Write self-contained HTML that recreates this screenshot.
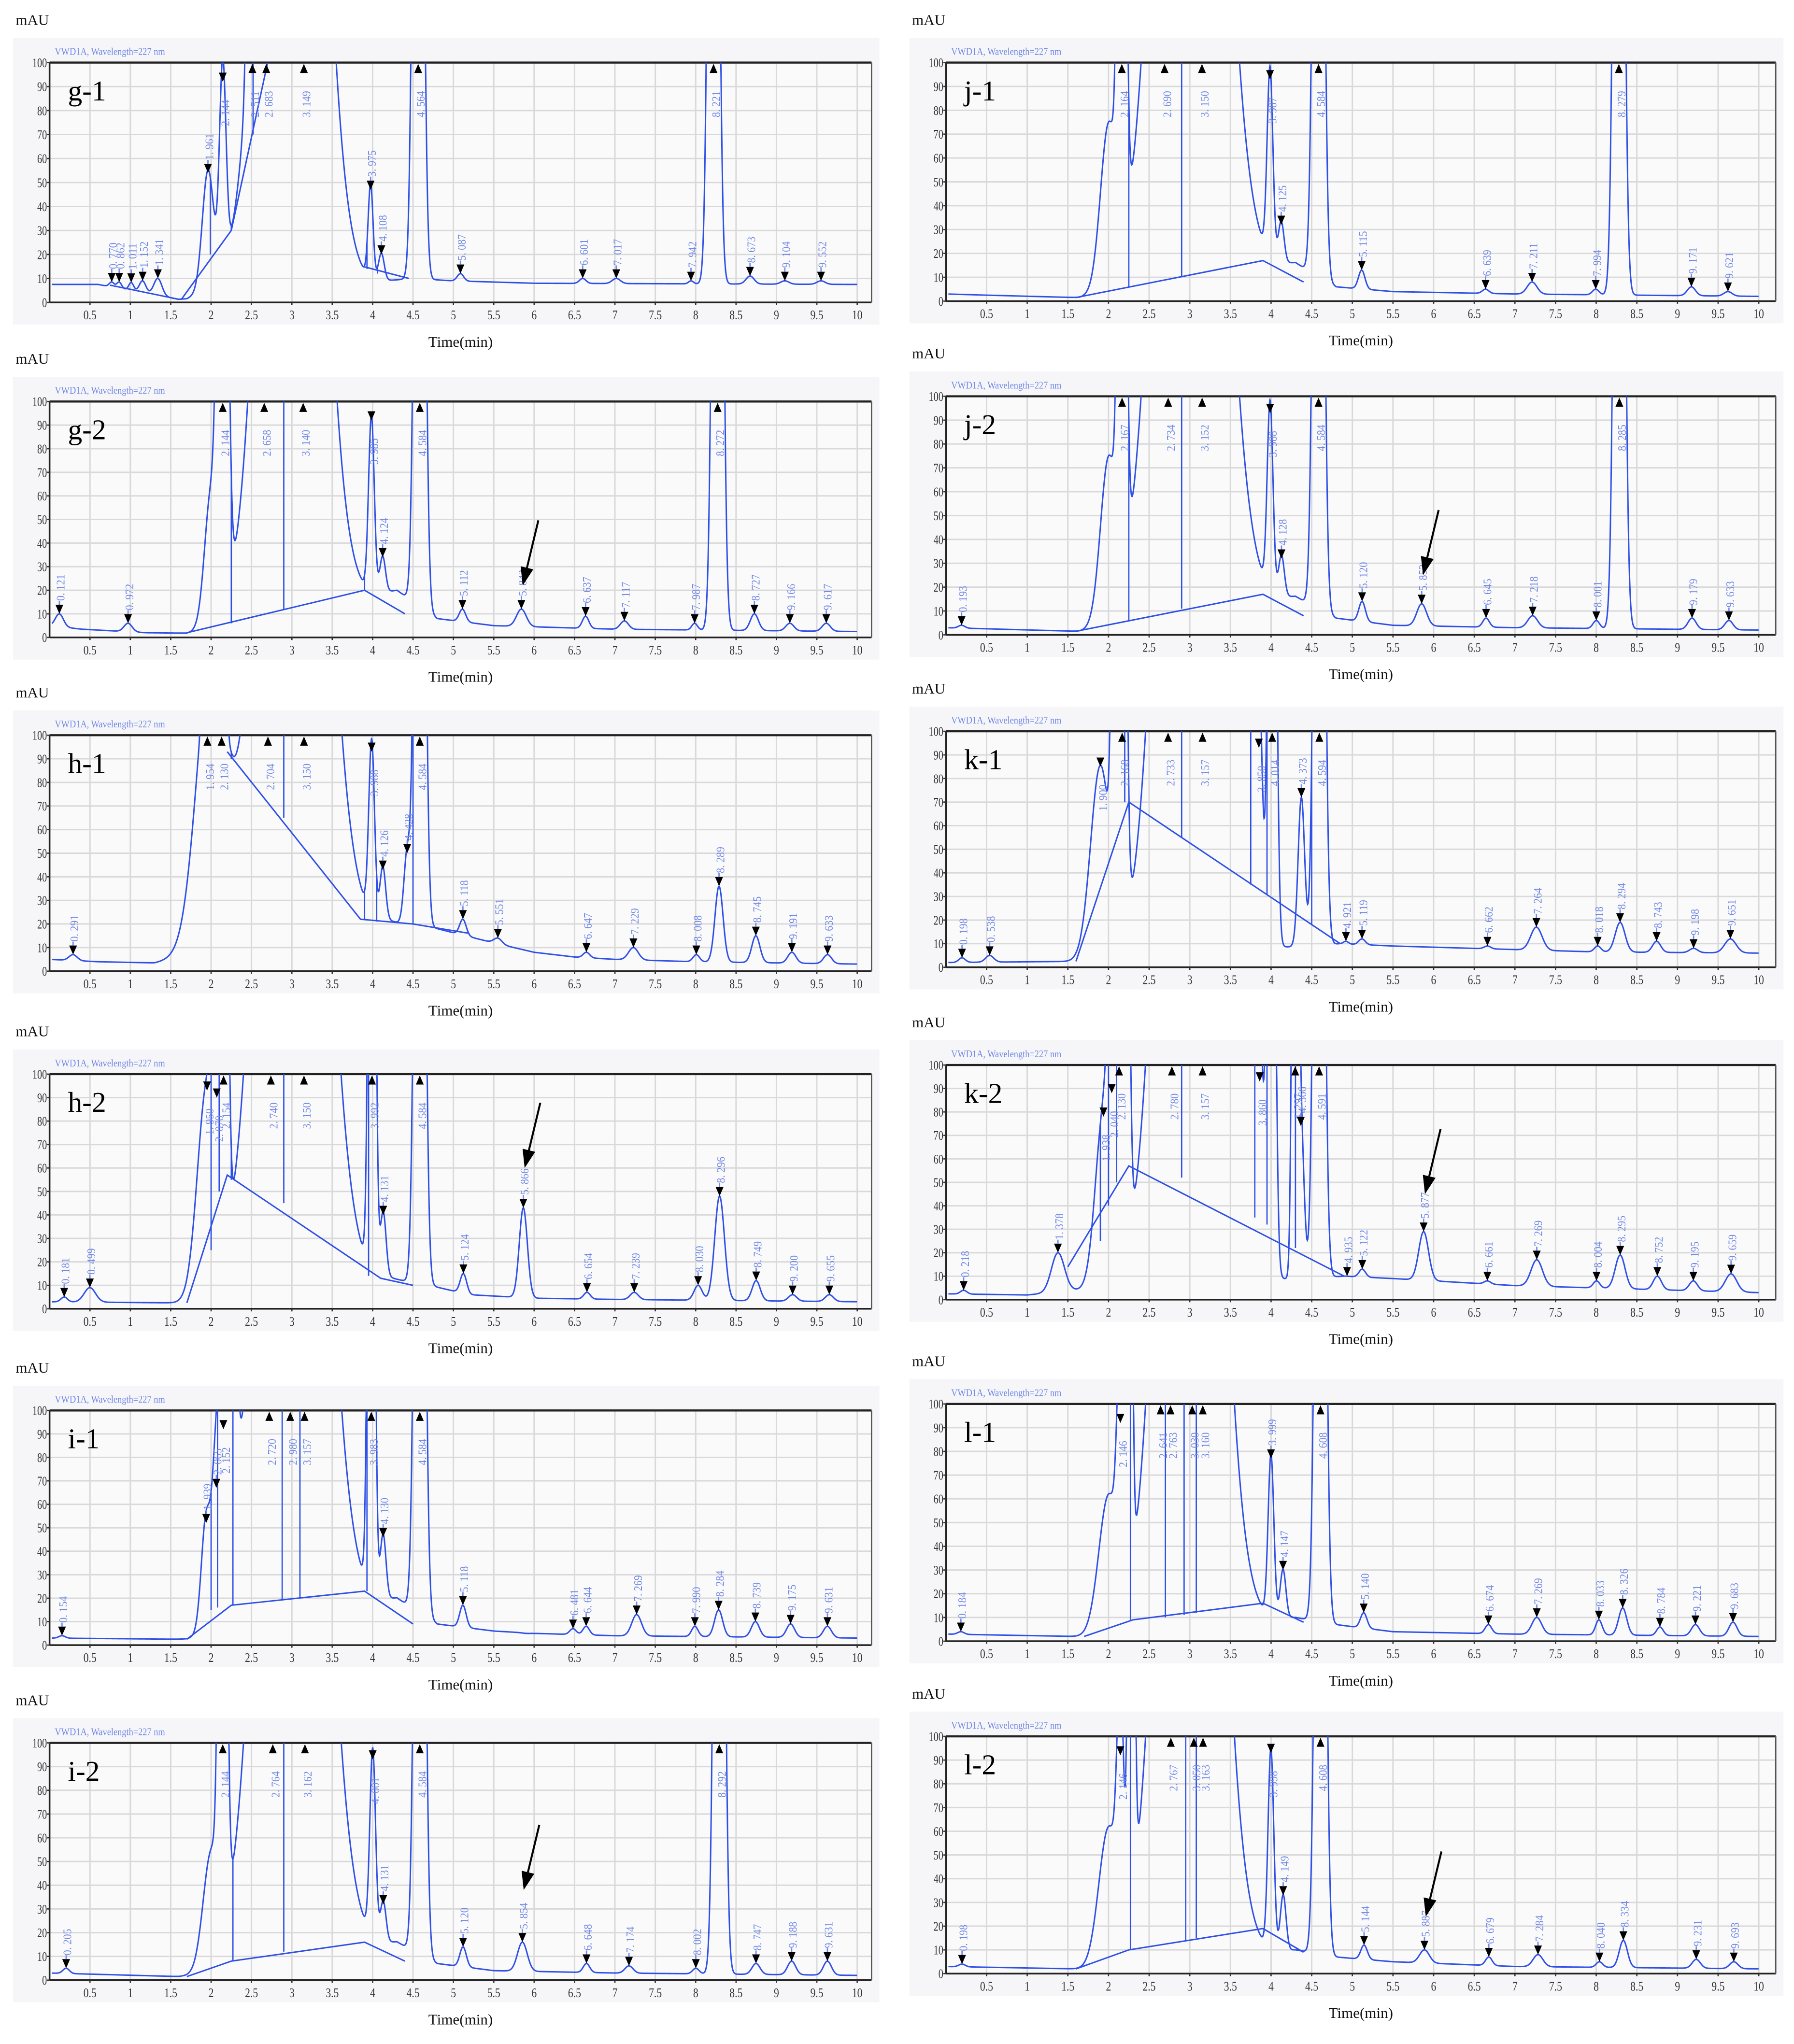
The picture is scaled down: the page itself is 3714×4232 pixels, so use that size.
<!DOCTYPE html>
<html><head><meta charset="utf-8">
<style>
html,body{margin:0;padding:0;background:#fff;}
svg{display:block;}
</style></head>
<body>
<svg id="fig" xmlns="http://www.w3.org/2000/svg" width="3714" height="4232" viewBox="0 0 1375 1568" preserveAspectRatio="none"></svg>
<script>
// ---- data: peaks [time, apex mAU, sigma, labelled] ----
const names = ["g-1","g-2","h-1","h-2","i-1","i-2","j-1","j-2","k-1","k-2","l-1","l-2"];
const tickTimes = [0.5,1,1.5,2,2.5,3,3.5,4,4.5,5,5.5,6,6.5,7,7.5,8,8.5,9,9.5,10];
const tickMAU = [0,10,20,30,40,50,60,70,80,90,100];

const g1Base = [[0,7.5],[0.6,7.5],[1.6,1.3],[1.7,1.5],[2.2,8],[3.85,8],[4.5,10],[5,9],[6,8],[10,7.5]];
const g1Peaks = [[0.77,8.5,.03,1],[0.862,8.5,.03,1],[1.011,8.3,.03,1],[1.152,9,.04,1],[1.341,10,.05,1],[1.961,54,.07,1],[2.144,92,.04,1],[2.511,300,.04,1],[2.683,300,.05,1],[3.0,500,.3,0],[3.149,300,.05,1],[3.975,47,.03,1],[4.108,20,.035,1],[4.564,500,.05,1],[5.087,12,.04,1],[6.601,10,.04,1],[7.017,10,.05,1],[7.942,9,.03,1],[8.221,500,.05,1],[8.673,11,.05,1],[9.104,9,.05,1],[9.552,9,.05,1]];
const g1Ibase = [[[0.75,7.2],[1.6,1.3]],[[1.63,1.2],[2.25,30],[2.7,100]],[[3.88,15],[4.45,10]]];
const g1Drops = [[1.99,20],[2.25,30],[2.52,70],[3.93,14],[4.06,12]];

const g2Base = [[0,5],[0.4,3.5],[1.2,2],[1.7,1.8],[4.3,20],[4.8,8],[5.5,5],[7,3.5],[10,2.5]];
const g2Peaks = [[0.121,10,.05,1],[0.972,6,.05,1],[2.0,60,.08,0],[2.144,400,.05,1],[2.658,400,.05,1],[3.0,500,.3,0],[3.140,400,.05,1],[3.985,92,.035,1],[4.124,34,.035,1],[4.584,500,.05,1],[5.112,12,.04,1],[5.842,12,.06,1],[6.637,9,.04,1],[7.117,7,.05,1],[7.987,6,.035,1],[8.272,500,.05,1],[8.727,10,.05,1],[9.166,6,.05,1],[9.617,6,.05,1]];
const g2Ibase = [[[1.7,2],[3.9,20],[4.4,10]]];
const g2Drops = [[2.25,6],[2.9,12],[3.9,20]];

const h1Base = [[0,5],[0.6,4],[1.3,3.5],[1.5,5],[4.2,21],[4.8,18],[5.5,12],[6,8],[6.5,6],[7,5],[8,4],[10,3]];
const h1Peaks = [[0.291,7,.05,1],[2.0,130,.18,0],[1.954,400,.03,1],[2.13,400,.03,1],[2.704,400,.04,1],[3.0,500,.33,0],[3.150,400,.04,1],[3.988,93,.035,1],[4.126,43,.035,1],[4.428,50,.04,1],[4.584,500,.05,1],[5.118,22,.04,1],[5.551,14,.05,1],[6.647,8,.04,1],[7.229,10,.06,1],[8.008,7,.04,1],[8.289,36,.05,1],[8.745,15,.05,1],[9.191,8,.05,1],[9.633,7,.05,1]];
const h1Ibase = [[[2.2,93],[3.85,22],[4.5,20],[5.2,16]]];
const h1Drops = [[2.25,90],[2.9,65],[3.9,22],[4.05,21],[4.5,20]];

const h2Base = [[0,3],[1.6,2.5],[1.7,2.5],[4.2,13],[4.7,10],[5.2,6],[6,4.5],[7,4],[10,3]];
const h2Peaks = [[0.181,5,.04,1],[0.499,9,.07,1],[1.95,93,.12,1],[2.07,90,.05,1],[2.154,400,.04,1],[2.740,400,.04,1],[3.0,500,.33,0],[3.150,400,.04,1],[3.992,400,.035,1],[4.131,40,.035,1],[4.584,500,.05,1],[5.124,15,.04,1],[5.866,43,.05,1],[6.654,7,.04,1],[7.239,7,.05,1],[8.030,10,.05,1],[8.296,48,.06,1],[8.749,12,.05,1],[9.200,6,.05,1],[9.655,6,.05,1]];
const h2Ibase = [[[1.7,2.5],[2.2,57],[4.1,13],[4.5,10]]];
const h2Drops = [[2.0,25],[2.1,50],[2.25,55],[2.9,45],[3.95,14]];

const i1Base = [[0,3],[1.6,2.5],[1.7,2.5],[4.3,20],[4.8,9],[5.5,6],[6,5],[7,4],[10,3]];
const i1Peaks = [[0.154,4,.04,1],[1.939,52,.06,1],[2.065,67,.05,1],[2.152,92,.05,1],[2.25,200,.05,0],[2.720,400,.04,1],[2.98,400,.04,1],[3.0,500,.33,0],[3.157,400,.04,1],[3.983,400,.035,1],[4.130,46,.035,1],[4.584,500,.05,1],[5.118,17,.04,1],[5.9,5,.05,0],[6.481,7,.04,1],[6.644,8,.04,1],[7.269,13,.06,1],[7.990,8,.04,1],[8.284,15,.05,1],[8.739,10,.05,1],[9.175,9,.05,1],[9.631,8,.05,1]];
const i1Ibase = [[[1.7,2.5],[2.25,17],[3.9,23],[4.5,9]]];
const i1Drops = [[2.0,15],[2.08,16],[2.27,17],[2.88,19],[3.1,20],[3.93,23]];

const i2Base = [[0,3],[1.6,1.5],[1.8,2],[4.3,16],[4.8,7],[5.5,4],[7,3],[10,2]];
const i2Peaks = [[0.205,5,.04,1],[2.0,50,.1,0],[2.144,400,.04,1],[2.764,400,.04,1],[3.0,500,.33,0],[3.162,400,.04,1],[4.001,93,.035,1],[4.131,32,.035,1],[4.584,500,.05,1],[5.120,14,.04,1],[5.854,16,.06,1],[6.648,7,.04,1],[7.174,6,.05,1],[8.002,5,.04,1],[8.292,500,.05,1],[8.747,7,.05,1],[9.188,8,.05,1],[9.631,8,.05,1]];
const i2Ibase = [[[1.7,1.5],[2.25,8],[3.9,16],[4.4,8]]];
const i2Drops = [[2.27,8],[2.9,12]];

const j1Base = [[0,3],[0.5,2.5],[1.6,1.5],[1.65,1.5],[4.3,16],[4.8,6],[5.5,4],[7,3],[10,2]];
const j1Peaks = [[2.0,70,.1,0],[2.164,400,.04,1],[2.690,400,.04,1],[3.0,500,.33,0],[3.150,400,.04,1],[3.987,93,.035,1],[4.125,32,.035,1],[4.584,500,.05,1],[5.115,13,.04,1],[6.639,5,.04,1],[7.211,8,.06,1],[7.994,5,.04,1],[8.279,500,.05,1],[9.171,6,.05,1],[9.621,4,.05,1]];
const j1Ibase = [[[1.6,1.5],[3.9,17],[4.4,8]]];
const j1Drops = [[2.25,6],[2.9,10]];

const j2Base = [[0,3],[1.6,1.5],[1.65,1.5],[4.3,16],[4.8,7],[5.5,4],[7,3],[10,2]];
const j2Peaks = [[0.193,4,.04,1],[2.0,70,.1,0],[2.167,400,.04,1],[2.734,400,.04,1],[3.0,500,.33,0],[3.152,400,.04,1],[3.988,93,.035,1],[4.128,32,.035,1],[4.584,500,.05,1],[5.120,14,.04,1],[5.853,13,.06,1],[6.645,7,.04,1],[7.218,8,.06,1],[8.001,6,.04,1],[8.285,500,.05,1],[9.179,7,.05,1],[9.633,6,.05,1]];
const j2Ibase = [[[1.6,1.5],[3.9,17],[4.4,8]]];
const j2Drops = [[2.25,6],[2.9,11]];

const k1Base = [[0,2],[1.6,2.5],[1.65,2.5],[4.85,10],[5.5,9],[7,7.5],[8,6.5],[10,6]];
const k1Peaks = [[0.198,4,.04,1],[0.538,5,.05,1],[1.9,85,.12,1],[2.1,400,.04,0],[2.168,400,.04,1],[2.733,400,.04,1],[3.0,500,.3,0],[3.157,400,.04,1],[3.6,300,.12,0],[3.85,93,.04,1],[4.014,400,.04,1],[4.373,72,.04,1],[4.594,500,.05,1],[4.921,11,.03,1],[5.119,12,.04,1],[6.662,9,.04,1],[7.264,17,.07,1],[8.018,9,.04,1],[8.294,19,.06,1],[8.743,11,.05,1],[9.198,8,.05,1],[9.651,12,.07,1]];
const k1Ibase = [[[1.6,2.5],[2.25,70],[4.85,10]]];
const k1Drops = [[2.2,70],[2.9,55],[3.75,35],[3.95,31],[4.3,22],[4.5,18]];

const k2Base = [[0,2.5],[1.0,2],[1.6,4],[4.9,10],[5.5,9],[7,6],[10,3]];
const k2Peaks = [[0.218,4,.04,1],[1.378,20,.08,1],[1.938,78,.1,1],[2.04,88,.05,1],[2.13,400,.04,1],[2.2,400,.04,0],[2.780,400,.04,1],[3.0,500,.3,0],[3.157,400,.04,1],[3.6,300,.12,0],[3.86,93,.04,1],[4.0,400,.04,0],[4.297,400,.03,1],[4.366,74,.04,1],[4.591,500,.05,1],[4.935,10,.03,1],[5.122,13,.04,1],[5.877,29,.06,1],[6.661,8,.04,1],[7.269,17,.07,1],[8.004,8,.04,1],[8.295,19,.06,1],[8.752,10,.05,1],[9.195,8,.05,1],[9.659,11,.07,1]];
const k2Ibase = [[[1.5,14],[2.25,57],[4.9,10]]];
const k2Drops = [[1.9,25],[2.0,40],[2.1,50],[2.9,52],[3.8,35],[3.95,32],[4.3,22]];

const l1Base = [[0,3],[1.6,2],[1.7,2],[4.3,10],[4.8,7],[5.5,4],[7,3],[10,2]];
const l1Peaks = [[0.184,4,.04,1],[2.0,60,.12,0],[2.146,92,.04,1],[2.25,400,.03,0],[2.641,400,.04,1],[2.763,400,.04,1],[3.0,500,.3,0],[3.030,400,.04,1],[3.160,400,.04,1],[3.999,77,.035,1],[4.147,30,.035,1],[4.608,500,.05,1],[5.140,12,.04,1],[6.674,7,.04,1],[7.269,10,.06,1],[8.033,9,.04,1],[8.326,14,.05,1],[8.784,6,.04,1],[9.221,7,.05,1],[9.683,8,.05,1]];
const l1Ibase = [[[1.7,2],[2.3,9],[3.9,16],[4.4,8]]];
const l1Drops = [[2.27,9],[2.7,10],[2.93,11],[3.08,12]];

const l2Base = [[0,3],[1.6,2],[1.7,2],[4.3,10],[4.8,7],[5.5,5],[7,3],[10,2]];
const l2Peaks = [[0.198,4,.04,1],[2.0,60,.12,0],[2.146,92,.04,1],[2.28,400,.03,0],[2.767,400,.04,1],[3.0,500,.3,0],[3.050,400,.04,1],[3.163,400,.04,1],[3.998,93,.035,1],[4.149,33,.035,1],[4.608,500,.05,1],[5.144,12,.04,1],[5.887,10,.06,1],[6.679,7,.04,1],[7.284,8,.06,1],[8.040,5,.04,1],[8.334,14,.05,1],[9.231,6,.05,1],[9.693,5,.05,1]];
const l2Ibase = [[[1.6,2],[2.25,10],[3.9,19],[4.4,9]]];
const l2Drops = [[2.27,10],[2.95,14],[3.08,15]];

const arrowTargets = {"g-2":[5.842,22],"h-2":[5.866,60],"i-2":[5.854,38],"j-2":[5.853,25],"k-2":[5.877,45],"l-2":[5.887,24]};

// ---- layout ----
const allBase=[g1Base,g2Base,h1Base,h2Base,i1Base,i2Base,j1Base,j2Base,k1Base,k2Base,l1Base,l2Base];
const allPeaks=[g1Peaks,g2Peaks,h1Peaks,h2Peaks,i1Peaks,i2Peaks,j1Peaks,j2Peaks,k1Peaks,k2Peaks,l1Peaks,l2Peaks];
const allIbase=[g1Ibase,g2Ibase,h1Ibase,h2Ibase,i1Ibase,i2Ibase,j1Ibase,j2Ibase,k1Ibase,k2Ibase,l1Ibase,l2Ibase];
const allDrops=[g1Drops,g2Drops,h1Drops,h2Drops,i1Drops,i2Drops,j1Drops,j2Drops,k1Drops,k2Drops,l1Drops,l2Drops];
const leftTops=[48,308,564,824,1082,1337], leftBots=[232,489,745,1004,1262,1519];
const rightTops=[48,304,561,817,1077,1332], rightBots=[231,487,742,997,1259,1514];

const NS="http://www.w3.org/2000/svg";
const svg=document.getElementById('fig');
function mk(tag,attrs,parent){const e=document.createElementNS(NS,tag);for(const k in attrs)e.setAttribute(k,attrs[k]);(parent||svg).appendChild(e);return e;}
function interp(pts,t){if(t<=pts[0][0])return pts[0][1];for(let i=1;i<pts.length;i++){if(t<=pts[i][0]){const a=pts[i-1],b=pts[i];return a[1]+(b[1]-a[1])*(t-a[0])/(b[0]-a[0]);}}return pts[pts.length-1][1];}
function fmt(t){const s=t.toFixed(3);return s.replace('.', '. ');}
const blue="#2f50e6", lblue="#7088e8";

names.forEach((nm,idx)=>{
  const col=idx<6?0:1, row=idx%6;
  const X0=col?725:38, PX=col?62.3:61.9;
  const L=X0, R=col?1361:668;
  const top=col?rightTops[row]:leftTops[row], bot=col?rightBots[row]:leftBots[row];
  const xs=t=>X0+PX*t, ys=v=>bot-(bot-top)*v/100;
  const base=allBase[idx], peaks=allPeaks[idx];
  const sig=t=>{let v=interp(base,t);for(const p of peaks){const a=p[1]-interp(base,p[0]);const z=(t-p[0])/p[2];if(z*z<60)v+=a*Math.exp(-z*z/2);}return v;};
  const g=mk('g',{});
  
  
  const bg=mk('rect',{x:L-28,y:top-19,width:R-L+34,height:bot-top+36,fill:'#f6f6f8'},g);
  
  const plot=mk('rect',{x:L,y:top,width:R-L,height:bot-top,fill:'#fafafa'},g);
  
  const grid=mk('g',{stroke:'#d9d9d9','stroke-width':1.1},g);
  
  tickMAU.forEach(v=>{if(v>0&&v<100)mk('line',{x1:L,x2:R,y1:ys(v),y2:ys(v)},grid);});
  tickTimes.forEach(t=>{mk('line',{x1:xs(t),x2:xs(t),y1:top,y2:bot},grid);});
  const ax=mk('g',{},g);
  mk('line',{x1:L,x2:R,y1:top,y2:top,stroke:'#222','stroke-width':1.6},ax);
  mk('line',{x1:L,x2:R,y1:bot,y2:bot,stroke:'#222','stroke-width':1.3},ax);
  mk('line',{x1:L,x2:L,y1:top,y2:bot,stroke:'#222','stroke-width':1.3},ax);
  mk('line',{x1:R,x2:R,y1:top,y2:bot,stroke:'#555','stroke-width':1},ax);
  const yt=mk('g',{'font-family':'Liberation Serif, serif','font-size':10,fill:'#333','text-anchor':'end'},g);
  
  tickMAU.forEach(v=>{const t=mk('text',{x:L-2,y:ys(v)+3.5,transform:`translate(${L-2},0) scale(0.75,1) translate(${-(L-2)},0)`},yt);t.textContent=v;
    mk('line',{x1:L-2,x2:L,y1:ys(v),y2:ys(v),stroke:'#333'},yt);});
  const xt=mk('g',{'font-family':'Liberation Serif, serif','font-size':10,fill:'#333','text-anchor':'middle'},g);
  
  tickTimes.forEach(t=>{const e=mk('text',{x:xs(t),y:bot+13,transform:`translate(${xs(t)},0) scale(0.8,1) translate(${-xs(t)},0)`},xt);e.textContent=t;
    mk('line',{x1:xs(t),x2:xs(t),y1:bot,y2:bot+2,stroke:'#333'},xt);});
  const xl=mk('text',{x:(L+R)/2,y:bot+34,'font-family':'Liberation Serif, serif','font-size':11.5,'text-anchor':'middle',fill:'#111'},g);
  xl.textContent='Time(min)';
  const yl=mk('text',{x:L-26,y:top-29,'font-family':'Liberation Serif, serif','font-size':11.5,fill:'#111'},g);
  yl.textContent='mAU';
  const vw=mk('text',{x:L+4,y:top-6,'font-family':'Liberation Serif, serif','font-size':8,fill:lblue,transform:`translate(${L+4},0) scale(0.85,1) translate(${-(L+4)},0)`},g);
  vw.textContent='VWD1A, Wavelength=227 nm';
  const pn=mk('text',{x:L+14,y:top+29,'font-family':'Liberation Serif, serif','font-size':22,fill:'#000'},g);
  pn.textContent=nm;
  const cid='clip'+idx;
  const cp=mk('clipPath',{id:cid},g);mk('rect',{x:L,y:top,width:R-L,height:bot-top},cp);
  const dg=mk('g',{'clip-path':`url(#${cid})`},g);
  
  allIbase[idx].forEach(seg=>{const pl=mk('polyline',{points:seg.map(p=>xs(p[0])+','+ys(p[1])).join(' '),fill:'none',stroke:blue,'stroke-width':1.1},dg);
    });
  allDrops[idx].forEach(d=>{const ln=mk('line',{x1:xs(d[0]),x2:xs(d[0]),y1:ys(d[1]),y2:ys(Math.min(sig(d[0]),101)),stroke:blue,'stroke-width':1},dg);
    });
  let pts=[];for(let t=0.03;t<=10.0001;t+=0.004){pts.push(xs(t).toFixed(2)+','+ys(Math.min(sig(t),102)).toFixed(2));}
  const tr=mk('polyline',{points:pts.join(' '),fill:'none',stroke:blue,'stroke-width':1.1},dg);
  
  const lg=mk('g',{},g);
  peaks.forEach(p=>{if(!p[3])return;const x=xs(p[0]);
    const clipped=p[1]>=99;
    if(!clipped){const y=ys(p[1]);
      const tri=mk('polygon',{points:`${x-3},${y-7} ${x+3},${y-7} ${x},${y}`,fill:'#000'},lg);
      
      const high=(y-10-30)<top;
      let tf;
      if(high){tf=`translate(${x+5},${y+34}) rotate(-90) scale(0.9,1)`;}
      else {mk('line',{x1:x,x2:x,y1:y-7,y2:y-10,stroke:lblue},lg);tf=`translate(${x+4},${y-10}) rotate(-90) scale(0.9,1)`;}
      const tx=mk('text',{x:0,y:0,transform:tf,'font-family':'Liberation Serif, serif','font-size':9,fill:lblue},lg);
      tx.textContent=fmt(p[0]);
    } else {const y=top;
      const tri=mk('polygon',{points:`${x-3},${y+8} ${x+3},${y+8} ${x},${y+1}`,fill:'#000'},lg);
      
      const tx=mk('text',{x:0,y:0,transform:`translate(${x+5},${y+42}) rotate(-90) scale(0.9,1)`,'font-family':'Liberation Serif, serif','font-size':9,fill:lblue},lg);
      tx.textContent=fmt(p[0]);}
  });
  if(arrowTargets[nm]){const a=arrowTargets[nm];const tx=xs(a[0])+1, ty=ys(a[1]);
    const sx=tx+12, sy=ty-50, dx=tx-sx, dy=ty-sy, len=Math.hypot(dx,dy), ux=dx/len, uy=dy/len;
    const bx=tx-ux*14, by=ty-uy*14;
    const ag=mk('g',{},g);
    mk('line',{x1:sx,y1:sy,x2:bx,y2:by,stroke:'#000','stroke-width':1.5},ag);
    mk('polygon',{points:`${tx},${ty} ${bx-uy*5},${by+ux*5} ${bx+uy*5},${by-ux*5}`,fill:'#000'},ag);}
});
</script>
</body></html>
